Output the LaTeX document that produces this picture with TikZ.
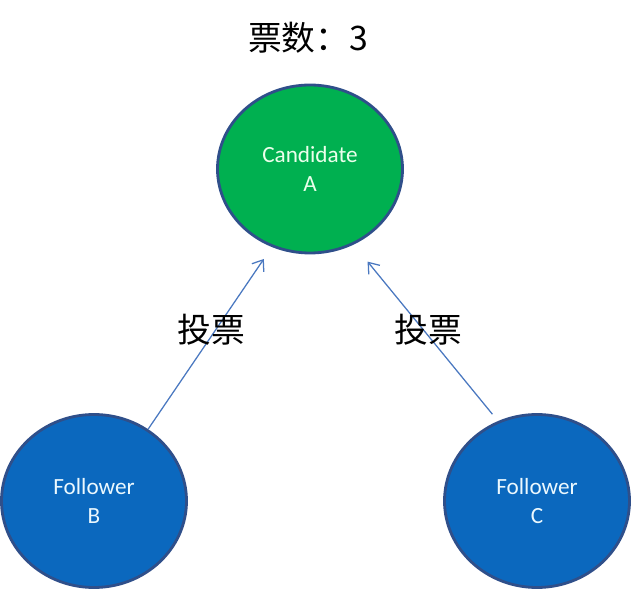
\documentclass[tikz,border=0pt]{standalone}
\usepackage{fontspec}
\setsansfont{Carlito}
\newfontfamily\cjk{Noto Sans CJK SC}
\usetikzlibrary{shapes.geometric,arrows.meta}
\definecolor{leadgreen}{HTML}{00B050}
\definecolor{follblue}{HTML}{0B68BE}
\definecolor{rimblue}{HTML}{2F4F8A}
\definecolor{votearrow}{HTML}{4A78C0}

\begin{document}
\begin{tikzpicture}[%
x=0.025cm, y=-0.025cm,
>={Straight Barb[length=2.4mm,width=3.6mm]},
candidate/.style={draw=rimblue, shape=ellipse, fill=leadgreen, line width=2pt, minimum width=185*0.025cm, minimum height=168*0.025cm, text=white!92!green, font=\sffamily\fontsize{16.5}{20.5}\selectfont, align=center, inner sep=0pt},
follower/.style={draw=rimblue, shape=ellipse, fill=follblue, line width=2pt, minimum width=185*0.025cm, minimum height=173*0.025cm, text=white!92!cyan, font=\sffamily\fontsize{16.5}{20.5}\selectfont, align=center, inner sep=0pt},
vote/.style={draw=votearrow, line width=0.9pt, ->},
votelabel/.style={font=\cjk\fontsize{24}{27}\selectfont, inner sep=0pt}
]
\useasboundingbox (0,0) rectangle (632,590);
\node[candidate] (ca) at (310,169) {Candidate\\A};
\node[follower] (fb) at (94,501) {Follower\\B};
\node[follower] (fc) at (537,501) {Follower\\C};
\node[votelabel] (count) at (308,38) {票数：3};
\draw[vote, shorten >=0.36cm] (fb.53) -- (ca.244);
\node[votelabel] (vb) at (211,330) {投票};
\draw[vote, shorten <=0.22cm, shorten >=0.55cm] (fc.116.5) -- (ca.300.7);
\node[votelabel] (vc) at (428,330) {投票};
\end{tikzpicture}
\end{document}
